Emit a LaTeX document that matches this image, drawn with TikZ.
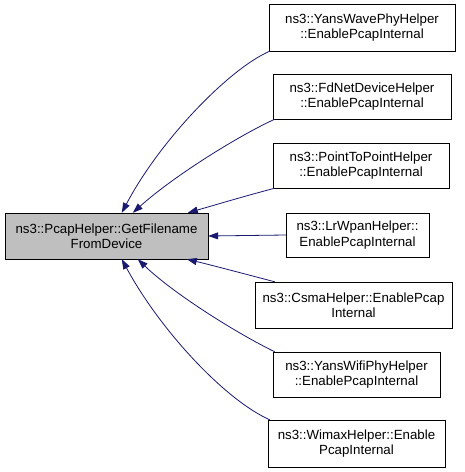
\documentclass[tikz,border=0pt]{standalone}
\usepackage{fontspec}
\setmainfont{Liberation Sans}
\usetikzlibrary{arrows.meta}
\definecolor{edgeblue}{HTML}{191970}
\definecolor{rootgray}{HTML}{BFBFBF}

\begin{document}
\begin{tikzpicture}[x=1pt, y=-1pt,
    box/.style={draw, fill=white, inner sep=0pt, align=center,
      font=\fontsize{13.3}{15.5}\selectfont, minimum height=46pt},
    edge/.style={draw=edgeblue, line width=0.8pt,
      -{Triangle[length=10pt, width=7pt, fill=edgeblue]}}]
    \useasboundingbox (0,0) rectangle (464,472);
    \node [box, fill=rootgray, minimum width=203pt] (pcap) at (106.5,236) {ns3::PcapHelper::GetFilename\\FromDevice};
    \node [box, minimum width=186pt, minimum height=47pt] (yw) at (362,27.5) {ns3::YansWavePhyHelper\\::EnablePcapInternal};
    \node [box, minimum width=178pt, minimum height=45pt] (fd) at (362,96.5) {ns3::FdNetDeviceHelper\\::EnablePcapInternal};
    \node [box, minimum width=176pt, minimum height=45pt] (p2p) at (361,165.5) {ns3::PointToPointHelper\\::EnablePcapInternal};
    \node [box, minimum width=143pt, minimum height=44pt] (lr) at (357.5,235) {ns3::LrWpanHelper::\\EnablePcapInternal};
    \node [box, minimum width=197pt] (csma) at (353.5,305) {ns3::CsmaHelper::EnablePcap\\Internal};
    \node [box, minimum width=167pt, minimum height=45pt] (wifi) at (356.5,374.5) {ns3::YansWifiPhyHelper\\::EnablePcapInternal};
    \node [box, minimum width=177pt, minimum height=47pt] (wimax) at (356.5,443.5) {ns3::WimaxHelper::Enable\\PcapInternal};
    % callers point back to the helper
    \draw [edge] ([xshift=1pt]yw.south west) .. controls (230,68) and (160,140) .. ([xshift=117pt]pcap.north west);
    \draw [edge] ([xshift=2pt]fd.south west) .. controls (240,135) and (175,175) .. ([xshift=128pt]pcap.north west);
    \draw [edge] ([xshift=2pt]p2p.south west) .. controls (245,196) and (215,205) .. ([xshift=183pt]pcap.north west);
    \draw [edge] (lr.west) -- (pcap.east);
    \draw [edge] ([xshift=20pt]csma.north west) .. controls (245,274) and (215,266) .. ([xshift=182pt]pcap.south west);
    \draw [edge] ([xshift=2pt]wifi.north west) .. controls (240,335) and (175,295) .. ([xshift=133pt]pcap.south west);
    \draw [edge] ([xshift=2pt]wimax.north west) .. controls (225,400) and (160,330) .. ([xshift=117pt]pcap.south west);
\end{tikzpicture}
\end{document}
